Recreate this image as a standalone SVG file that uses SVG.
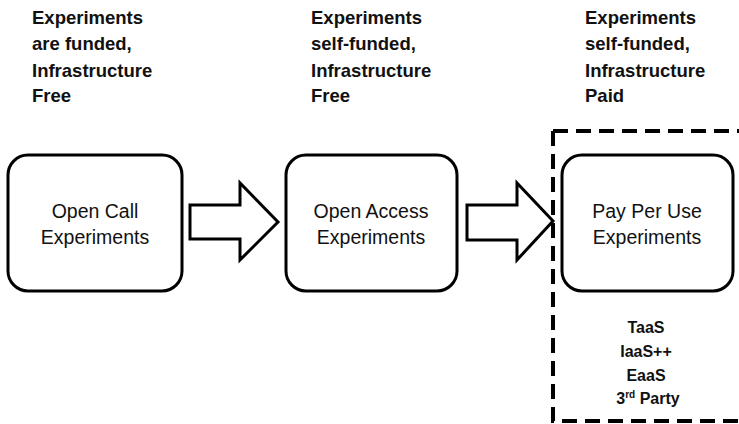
<svg xmlns="http://www.w3.org/2000/svg" width="739" height="424" viewBox="0 0 739 424">
<style>
.hdr{font-family:"Liberation Sans",Arial,sans-serif;font-weight:bold;font-size:18.5px;fill:#111}
.box{fill:#fff;stroke:#000;stroke-width:3}
.lbl{font-family:"Liberation Sans",Arial,sans-serif;font-size:19.5px;fill:#111;text-anchor:middle}
.arr{fill:#fff;stroke:#000;stroke-width:3;stroke-linejoin:miter}
.sub{font-family:"Liberation Sans",Arial,sans-serif;font-weight:bold;font-size:16px;fill:#111;text-anchor:middle}
</style>
<rect width="739" height="424" fill="#fff"/>
<g id="header1">
<text class="hdr" x="32" y="24">Experiments</text>
<text class="hdr" x="32" y="50">are funded,</text>
<text class="hdr" x="32" y="77">Infrastructure</text>
<text class="hdr" x="32" y="102">Free</text>
</g>
<g id="header2">
<text class="hdr" x="311" y="24">Experiments</text>
<text class="hdr" x="311" y="50">self-funded,</text>
<text class="hdr" x="311" y="77">Infrastructure</text>
<text class="hdr" x="311" y="102">Free</text>
</g>
<g id="header3">
<text class="hdr" x="585" y="24">Experiments</text>
<text class="hdr" x="585" y="50">self-funded,</text>
<text class="hdr" x="585" y="77">Infrastructure</text>
<text class="hdr" x="585" y="102">Paid</text>
</g>
<g id="paid-region">
<path d="M553,131 V421 H745 M553,131 H745" fill="none" stroke="#000" stroke-width="4" stroke-dasharray="15 8"/>
</g>
<g id="node-open-call">
<rect class="box" x="8" y="155" width="174" height="136" rx="20"/>
<text class="lbl" x="95" y="218">Open Call</text>
<text class="lbl" x="95" y="244">Experiments</text>
</g>
<g id="node-open-access">
<rect class="box" x="286" y="155" width="171" height="136" rx="20"/>
<text class="lbl" x="371" y="218">Open Access</text>
<text class="lbl" x="371" y="244">Experiments</text>
</g>
<g id="node-pay-per-use">
<rect class="box" x="562" y="155" width="171" height="136" rx="20"/>
<text class="lbl" x="647" y="218">Pay Per Use</text>
<text class="lbl" x="647" y="244">Experiments</text>
</g>
<g id="connectors">
<path class="arr" d="M190,205 H240 V183 L278,222 L240,260 V239 H190 Z"/>
<path class="arr" d="M467,205 H517 V183 L553,221 L517,260 V240 H467 Z"/>
</g>
<g id="models">
<text class="sub" x="646" y="333">TaaS</text>
<text class="sub" x="646" y="357">IaaS++</text>
<text class="sub" x="646" y="381">EaaS</text>
<text class="sub" x="648" y="404">3<tspan font-size="10" dy="-6">rd</tspan><tspan dy="6"> Party</tspan></text>
</g>
</svg>
